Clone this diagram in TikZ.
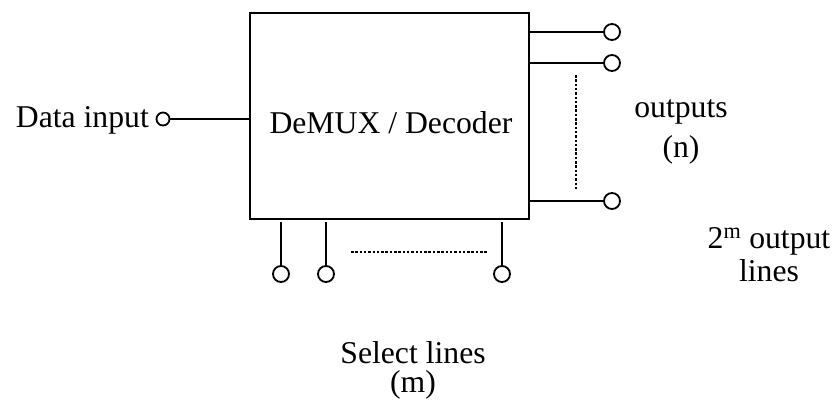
\documentclass[tikz,border=0pt]{standalone}
\usepackage{fontspec}
\setmainfont{Liberation Serif}
\begin{document}
\begin{tikzpicture}[x=1pt,y=-1pt,
  wire/.style={line width=1.8pt},
  dots/.style={line width=1.3pt,dash pattern=on 2.5pt off 1.8pt},
  pin/.style={circle,draw,line width=1.8pt,minimum size=16pt,inner sep=0pt},
  smallpin/.style={circle,draw,line width=1.8pt,minimum size=13pt,inner sep=0pt},
  lbl/.style={inner sep=0pt,font=\fontsize{31.7}{34}\selectfont}]
\useasboundingbox (0,0) rectangle (833,402);
% main box
\node[draw,line width=1.8pt,minimum width=279pt,minimum height=206pt,inner sep=0pt] (box) at (389.5,116) {};
\node[lbl,anchor=base] (title) at (391,133) {DeMUX / Decoder};
% data input
\node[smallpin] (din) at (163,119) {};
\node[lbl,anchor=base east] (dinlbl) at (149,127) {Data input};
\draw[wire] (din) -- (din -| box.west);
% outputs
\node[pin] (o1) at (612,32) {};
\node[pin] (o2) at (612,63) {};
\node[pin] (o3) at (612,201) {};
\draw[wire] (o1 -| box.east) -- (o1);
\draw[wire] (o2 -| box.east) -- (o2);
\draw[wire] (o3 -| box.east) -- (o3);
\coordinate (vd1) at (576,75);
\coordinate (vd2) at (576,191);
\draw[dots] (vd1) -- (vd2);
\node[lbl,anchor=base] (outlbl) at (681,117) {outputs};
\node[lbl,anchor=base] (nlbl) at (681,157) {(n)};
\node[lbl,anchor=base] (twom) at (769,248) {2\textsuperscript{m} output};
\node[lbl,anchor=base] (lineslbl) at (769,281) {lines};
% select lines
\node[pin] (s1) at (281,274) {};
\node[pin] (s2) at (326,274) {};
\node[pin] (s3) at (502,274) {};
\coordinate (t1) at (281,222);
\coordinate (t2) at (326,222);
\coordinate (t3) at (502,222);
\draw[wire] (t1) -- (s1);
\draw[wire] (t2) -- (s2);
\draw[wire] (t3) -- (s3);
\coordinate (hd1) at (351,252);
\coordinate (hd2) at (487,252);
\draw[dots] (hd1) -- (hd2);
\node[lbl,anchor=base] (sellbl) at (413,363) {Select lines};
\node[lbl,anchor=base] (mlbl) at (413,392) {(m)};
\end{tikzpicture}
\end{document}
